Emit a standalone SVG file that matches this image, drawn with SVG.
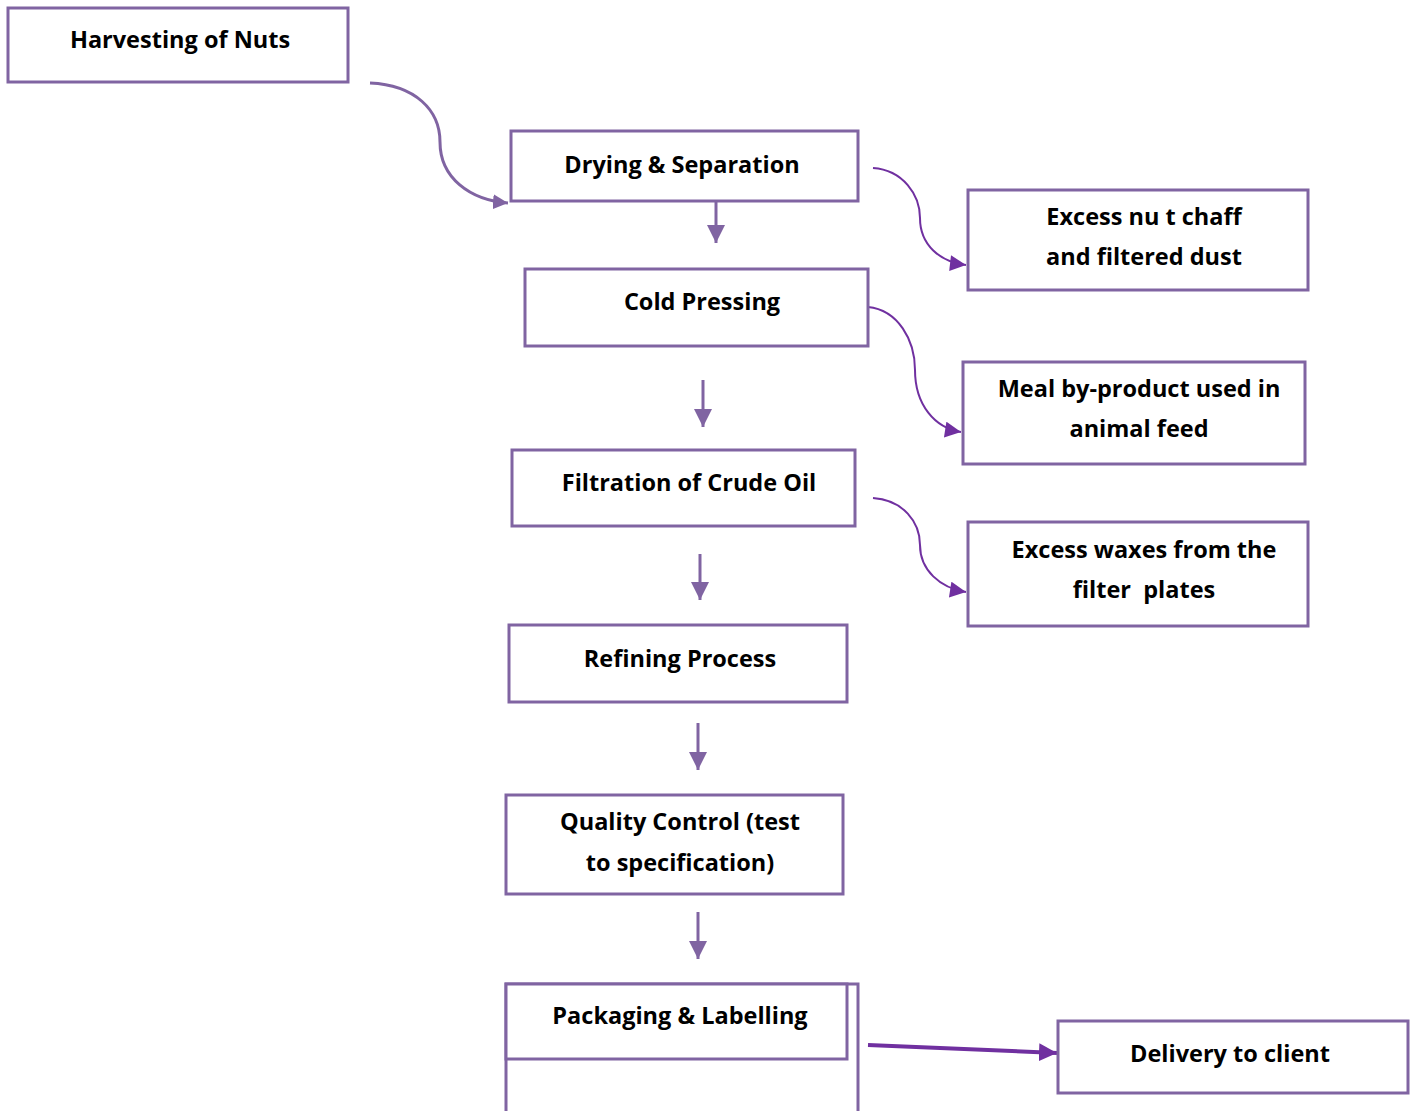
<svg xmlns="http://www.w3.org/2000/svg" width="1412" height="1111" viewBox="0 0 1412 1111">
<style>
.box{fill:#fff;stroke:#8064A2;stroke-width:3}
.t{font-family:"Open Sans","Liberation Sans",sans-serif;font-weight:bold;font-size:23.5px;fill:#000;text-anchor:middle;white-space:pre}
.down{stroke:#8064A2;stroke-width:3;fill:none}
.curve{stroke:#7030A0;stroke-width:2;fill:none}
</style>
<defs>
<marker id="ah" viewBox="0 0 10 10" refX="10" refY="5" markerWidth="6" markerHeight="6" orient="auto" markerUnits="strokeWidth"><path d="M0,0 L10,5 L0,10 z" fill="#8064A2"/></marker>
<marker id="ahm" viewBox="0 0 10 10" refX="10" refY="5" markerWidth="5" markerHeight="5" orient="auto" markerUnits="strokeWidth"><path d="M0,0 L10,5 L0,10 z" fill="#8064A2"/></marker>
<marker id="ahc" viewBox="0 0 10 10" refX="10" refY="5" markerWidth="8.5" markerHeight="8" orient="auto" markerUnits="strokeWidth"><path d="M0,0 L10,5 L0,10 z" fill="#7030A0"/></marker>
<marker id="ahd" viewBox="0 0 10 10" refX="10" refY="5" markerWidth="4.5" markerHeight="4.5" orient="auto" markerUnits="strokeWidth"><path d="M0,0 L10,5 L0,10 z" fill="#7030A0"/></marker>
</defs>
<g id="connectors">
<path class="down" d="M370,83 C415,85 440,110 440,142 C440,178 470,200 508,203" stroke-width="4" marker-end="url(#ahm)"/>
<line class="down" x1="716" y1="198" x2="716" y2="243" marker-end="url(#ah)"/>
<line class="down" x1="703" y1="380" x2="703" y2="427" marker-end="url(#ah)"/>
<line class="down" x1="700" y1="554" x2="700" y2="600" marker-end="url(#ah)"/>
<line class="down" x1="698" y1="723" x2="698" y2="770" marker-end="url(#ah)"/>
<line class="down" x1="698" y1="912" x2="698" y2="959" marker-end="url(#ah)"/>
<path class="curve" d="M873,168 C903,170 920,195 920,218 C920,245 940,262 966,265" marker-end="url(#ahc)"/>
<path class="curve" d="M868,307 C898,310 915,340 915,370 C915,405 935,428 961,432" marker-end="url(#ahc)"/>
<path class="curve" d="M873,498 C903,500 920,522 920,545 C920,570 940,588 966,592" marker-end="url(#ahc)"/>
<line x1="868" y1="1045" x2="1057" y2="1053" stroke="#7030A0" stroke-width="4" marker-end="url(#ahd)"/>
</g>
<g id="harvesting"><rect class="box" x="8" y="8" width="340" height="74"/><text class="t" x="180" y="48">Harvesting of Nuts</text></g>
<g id="drying"><rect class="box" x="511" y="131" width="347" height="70"/><text class="t" x="682" y="173">Drying &amp; Separation</text></g>
<g id="cold"><rect class="box" x="525" y="269" width="343" height="77"/><text class="t" x="702" y="310">Cold Pressing</text></g>
<g id="filtration"><rect class="box" x="512" y="450" width="343" height="76"/><text class="t" x="689" y="491">Filtration of Crude Oil</text></g>
<g id="refining"><rect class="box" x="509" y="625" width="338" height="77"/><text class="t" x="680" y="667">Refining Process</text></g>
<g id="quality"><rect class="box" x="506" y="795" width="337" height="99"/><text class="t" x="680" y="830">Quality Control (test</text><text class="t" x="680" y="871">to specification)</text></g>
<g id="packaging"><rect class="box" x="506" y="984" width="352" height="140"/><rect class="box" x="506" y="984" width="341" height="75"/><text class="t" x="680" y="1024">Packaging &amp; Labelling</text></g>
<g id="chaff"><rect class="box" x="968" y="190" width="340" height="100"/><text class="t" x="1144" y="225">Excess nu t chaff</text><text class="t" x="1144" y="265">and filtered dust</text></g>
<g id="meal"><rect class="box" x="963" y="362" width="342" height="102"/><text class="t" x="1139" y="397">Meal by-product used in</text><text class="t" x="1139" y="437">animal feed</text></g>
<g id="waxes"><rect class="box" x="968" y="522" width="340" height="104"/><text class="t" x="1144" y="558">Excess waxes from the</text><text class="t" x="1144" y="598">filter  plates</text></g>
<g id="delivery"><rect class="box" x="1058" y="1021" width="350" height="72"/><text class="t" x="1230" y="1062">Delivery to client</text></g>
</svg>
